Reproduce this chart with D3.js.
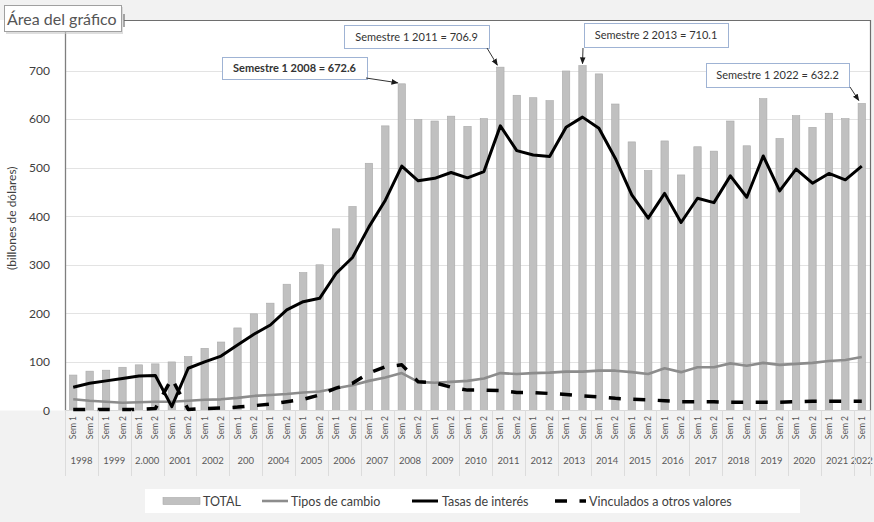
<!DOCTYPE html>
<html>
<head>
<meta charset="utf-8">
<script src="https://cdn.jsdelivr.net/npm/d3@7"></script>
<style>
  html, body { margin: 0; padding: 0; background: #f2f2f2; }
  svg { display: block; }
  text { font-family: Lato, "Open Sans", sans-serif; }
</style>
</head>
<body>
<svg id="chart" width="874" height="522"></svg>
<script>
// Semester categories, 1998 S1 .. 2022 S1
const years = ["1998","1999","2.000","2001","2002","200","2004","2005","2006","2007","2008",
  "2009","2010","2011","2012","2013","2014","2015","2016","2017","2018","2019","2020","2021","2022"];
const semLabels = [];
years.forEach((yr, i) => {
  semLabels.push("Sem 1");
  if (i < years.length - 1) semLabels.push("Sem 2");
});

// Series (billones de dólares)
const total = [73, 81, 83, 89, 94, 96, 100, 111, 128, 141, 170, 199, 221, 260, 284, 300, 374, 420,
  509, 586, 672.6, 599, 596, 606, 585, 601, 706.9, 649, 644, 638, 699, 710.1, 693, 631, 553, 494,
  555, 485, 543, 534, 596, 545, 642, 560, 607, 583, 612, 601, 632.2];
const tiposCambio = [23, 20, 18, 16, 17, 18, 18, 20, 22, 23, 26, 30, 32, 34, 37, 39, 46, 52, 61, 68,
  77, 59, 57, 59, 61, 66, 77, 75, 77, 78, 80, 80, 82, 82, 79, 75, 87, 79, 89, 89, 97, 92, 98, 94,
  96, 98, 102, 104, 110];
const tasasInteres = [48, 56, 61, 66, 71, 72, 8, 87, 100, 112, 135, 157, 176, 207, 224, 231, 282,
  315, 378, 433, 503, 473, 478, 490, 479, 492, 586, 535, 526, 523, 583, 604, 581, 519, 444, 396,
  447, 387, 437, 428, 483, 439, 524, 452, 497, 468, 488, 475, 503];
const vinculados = [2, 2, 2, 2, 2, 4, 66, 2, 4, 5, 7, 10, 13, 18, 23, 32, 46, 56, 77, 90, 94, 59,
  57, 48, 42, 42, 41, 37, 37, 35, 33, 30, 28, 25, 23, 22, 20, 18, 18, 18, 17, 17, 17, 17, 18, 19,
  19, 19, 19];
const yTicks = [0, 100, 200, 300, 400, 500, 600, 700];

// Callouts: index of the bar they point at, label and box placement
const callouts = [
  { i: 20, text: "Semestre 1  2008 = 672.6", bold: true,  box: [222, 57, 145, 22], from: [366, 78], dx: -4, dy: -1 },
  { i: 26, text: "Semestre 1  2011 = 706.9", bold: false, box: [344, 25, 145, 23], from: [487, 48], dx: -3, dy: -2 },
  { i: 31, text: "Semestre 2  2013 = 710.1", bold: false, box: [584, 23, 144, 24], from: [583, 48], dx: 0, dy: -2 },
  { i: 48, text: "Semestre 1  2022 = 632.2", bold: false, box: [706, 63, 143, 24], from: [850, 87], dx: -3, dy: -3 }
];

(function draw() {
  const svg = d3.select("#chart");
  const pLeft = 65, pRight = 870, pTop = 20, pBottom = 410.5;
  const idx = d3.range(total.length);

  const x = d3.scaleBand().domain(idx).range([pLeft, pRight]).paddingInner(0.55).paddingOuter(0.275);
  const y = d3.scaleLinear().domain([0, 700]).range([pBottom, 70.5]);
  const cx = i => x(i) + x.bandwidth() / 2;

  // Plot background
  svg.append("rect").attr("x", 0).attr("y", pTop).attr("width", pRight).attr("height", pBottom - pTop)
    .attr("fill", "#ffffff");

  // Gridlines
  svg.append("g").selectAll("line").data(yTicks.filter(d => d > 0)).join("line")
    .attr("x1", pLeft).attr("x2", pRight)
    .attr("y1", d => Math.round(y(d)) + 0.5).attr("y2", d => Math.round(y(d)) + 0.5)
    .attr("stroke", "#e3e3e3").attr("stroke-width", 1);

  // Y axis
  const yAxis = d3.axisLeft(y).tickValues(yTicks).tickSize(0).tickPadding(15);
  const gy = svg.append("g").attr("transform", `translate(${pLeft},0)`).call(yAxis);
  gy.select(".domain").remove();
  gy.selectAll("text").attr("font-size", 12).attr("fill", "#404040")
    .attr("font-family", "Lato, sans-serif");
  svg.append("line").attr("x1", pLeft + 0.5).attr("x2", pLeft + 0.5).attr("y1", 32).attr("y2", pBottom)
    .attr("stroke", "#7f7f7f").attr("stroke-width", 1.3);

  svg.append("text").attr("transform", `translate(16,${(pTop + pBottom) / 2 + 3}) rotate(-90)`)
    .attr("text-anchor", "middle").attr("font-size", 12).attr("fill", "#404040")
    .text("(billones de dólares)");

  // Bars
  svg.append("g").selectAll("rect").data(total).join("rect")
    .attr("x", (d, i) => x(i)).attr("width", x.bandwidth())
    .attr("y", d => y(d)).attr("height", d => y(0) - y(d))
    .attr("fill", "#c0c0c0").attr("stroke", "#a9a9a9").attr("stroke-width", 0.6);

  // Baseline
  svg.append("line").attr("x1", pLeft).attr("x2", pRight).attr("y1", pBottom).attr("y2", pBottom)
    .attr("stroke", "#d9d9d9").attr("stroke-width", 1);

  // Lines
  const line = d3.line().x((d, i) => cx(i)).y(d => y(d));
  svg.append("path").datum(tiposCambio).attr("d", line).attr("fill", "none")
    .attr("stroke", "#8c8c8c").attr("stroke-width", 2.6).attr("stroke-linejoin", "round");
  svg.append("path").datum(tasasInteres).attr("d", line).attr("fill", "none")
    .attr("stroke", "#000").attr("stroke-width", 3).attr("stroke-linejoin", "round");
  svg.append("path").datum(vinculados).attr("d", line).attr("fill", "none")
    .attr("stroke", "#000").attr("stroke-width", 3.5).attr("stroke-dasharray", "12,12.5")
    .attr("stroke-linejoin", "round");

  // Frame
  svg.append("path").attr("d", `M124,${pTop + 0.5} H${pRight + 0.5} V${pBottom}`)
    .attr("fill", "none").attr("stroke", "#6e6e6e").attr("stroke-width", 1.2);
  svg.append("line").attr("x1", 124).attr("x2", 124).attr("y1", 14).attr("y2", 27)
    .attr("stroke", "#6e6e6e").attr("stroke-width", 1.2);

  // Category axis: semester labels, year labels and group separators
  svg.append("g").selectAll("text").data(semLabels).join("text")
    .attr("transform", (d, i) => `translate(${cx(i) + 3},416) rotate(-90)`)
    .attr("text-anchor", "end").attr("font-size", 8.5).attr("fill", "#595959").text(d => d);

  const half = x.step() * x.paddingInner() / 2;
  const groupStart = gi => x(gi * 2) - half;
  const groupEnd = gi => (gi * 2 + 1 < total.length) ? x(gi * 2 + 1) + x.bandwidth() + half : pRight;
  svg.append("g").selectAll("text").data(years).join("text")
    .attr("x", (d, i) => (groupStart(i) + groupEnd(i)) / 2)
    .attr("y", 464).attr("text-anchor", "middle").attr("font-size", 9.5).attr("fill", "#595959")
    .text(d => d);
  svg.append("g").selectAll("line").data(d3.range(years.length + 1)).join("line")
    .attr("x1", i => i < years.length ? Math.round(groupStart(i)) + 0.5 : pRight + 0.5)
    .attr("x2", i => i < years.length ? Math.round(groupStart(i)) + 0.5 : pRight + 0.5)
    .attr("y1", pBottom).attr("y2", 476).attr("stroke", "#dcdcdc").attr("stroke-width", 1);

  // Callouts with arrows
  const defs = svg.append("defs");
  defs.append("marker").attr("id", "arrow").attr("viewBox", "0 0 10 10").attr("refX", 9).attr("refY", 5)
    .attr("markerWidth", 7).attr("markerHeight", 7).attr("orient", "auto-start-reverse")
    .append("path").attr("d", "M0,1 L10,5 L0,9 Z").attr("fill", "#1a1a1a");

  const cg = svg.append("g");
  callouts.forEach(c => {
    const [bx, by, bw, bh] = c.box;
    cg.append("rect").attr("x", bx + 0.5).attr("y", by + 0.5).attr("width", bw).attr("height", bh)
      .attr("fill", "#ffffff").attr("stroke", "#9fb3d4").attr("stroke-width", 1);
    cg.append("text").attr("x", bx + bw / 2).attr("y", by + bh / 2 + 4)
      .attr("text-anchor", "middle").attr("font-size", 11)
      .attr("font-weight", c.bold ? "bold" : "normal").attr("fill", "#333333").text(c.text);
    cg.append("line").attr("x1", c.from[0]).attr("y1", c.from[1])
      .attr("x2", cx(c.i) + c.dx).attr("y2", y(total[c.i]) + c.dy)
      .attr("stroke", "#333333").attr("stroke-width", 1).attr("marker-end", "url(#arrow)");
  });

  // Legend
  const lg = svg.append("g");
  lg.append("rect").attr("x", 145).attr("y", 489).attr("width", 655).attr("height", 24).attr("fill", "#ffffff");
  const ly = 501;
  lg.append("rect").attr("x", 163).attr("y", ly - 3.5).attr("width", 37).attr("height", 7)
    .attr("fill", "#c0c0c0").attr("stroke", "#a9a9a9").attr("stroke-width", 0.6);
  lg.append("line").attr("x1", 262).attr("x2", 288).attr("y1", ly).attr("y2", ly)
    .attr("stroke", "#8c8c8c").attr("stroke-width", 2.6);
  lg.append("line").attr("x1", 412).attr("x2", 438).attr("y1", ly).attr("y2", ly)
    .attr("stroke", "#000").attr("stroke-width", 3);
  lg.append("line").attr("x1", 555).attr("x2", 586).attr("y1", ly).attr("y2", ly)
    .attr("stroke", "#000").attr("stroke-width", 3.5).attr("stroke-dasharray", "12,12.5");
  const legendText = [["TOTAL", 203], ["Tipos de cambio", 291], ["Tasas de interés", 442], ["Vinculados a otros valores", 589]];
  lg.selectAll("text").data(legendText).join("text")
    .attr("x", d => d[1]).attr("y", ly + 4.5).attr("font-size", 12.5).attr("fill", "#404040")
    .text(d => d[0]);

  // Chart-area tooltip
  const tip = svg.append("g");
  tip.append("rect").attr("x", 6).attr("y", 7).attr("width", 117).attr("height", 27)
    .attr("fill", "#c8c8c8").attr("opacity", 0.6);
  tip.append("rect").attr("x", 4.5).attr("y", 5.5).attr("width", 117).attr("height", 26)
    .attr("fill", "#ffffff").attr("stroke", "#a0a0a0").attr("stroke-width", 1);
  tip.append("text").attr("x", 7).attr("y", 25).attr("font-size", 16).attr("fill", "#555555")
    .text("Área del gráfico");
})();
</script>
</body>
</html>
